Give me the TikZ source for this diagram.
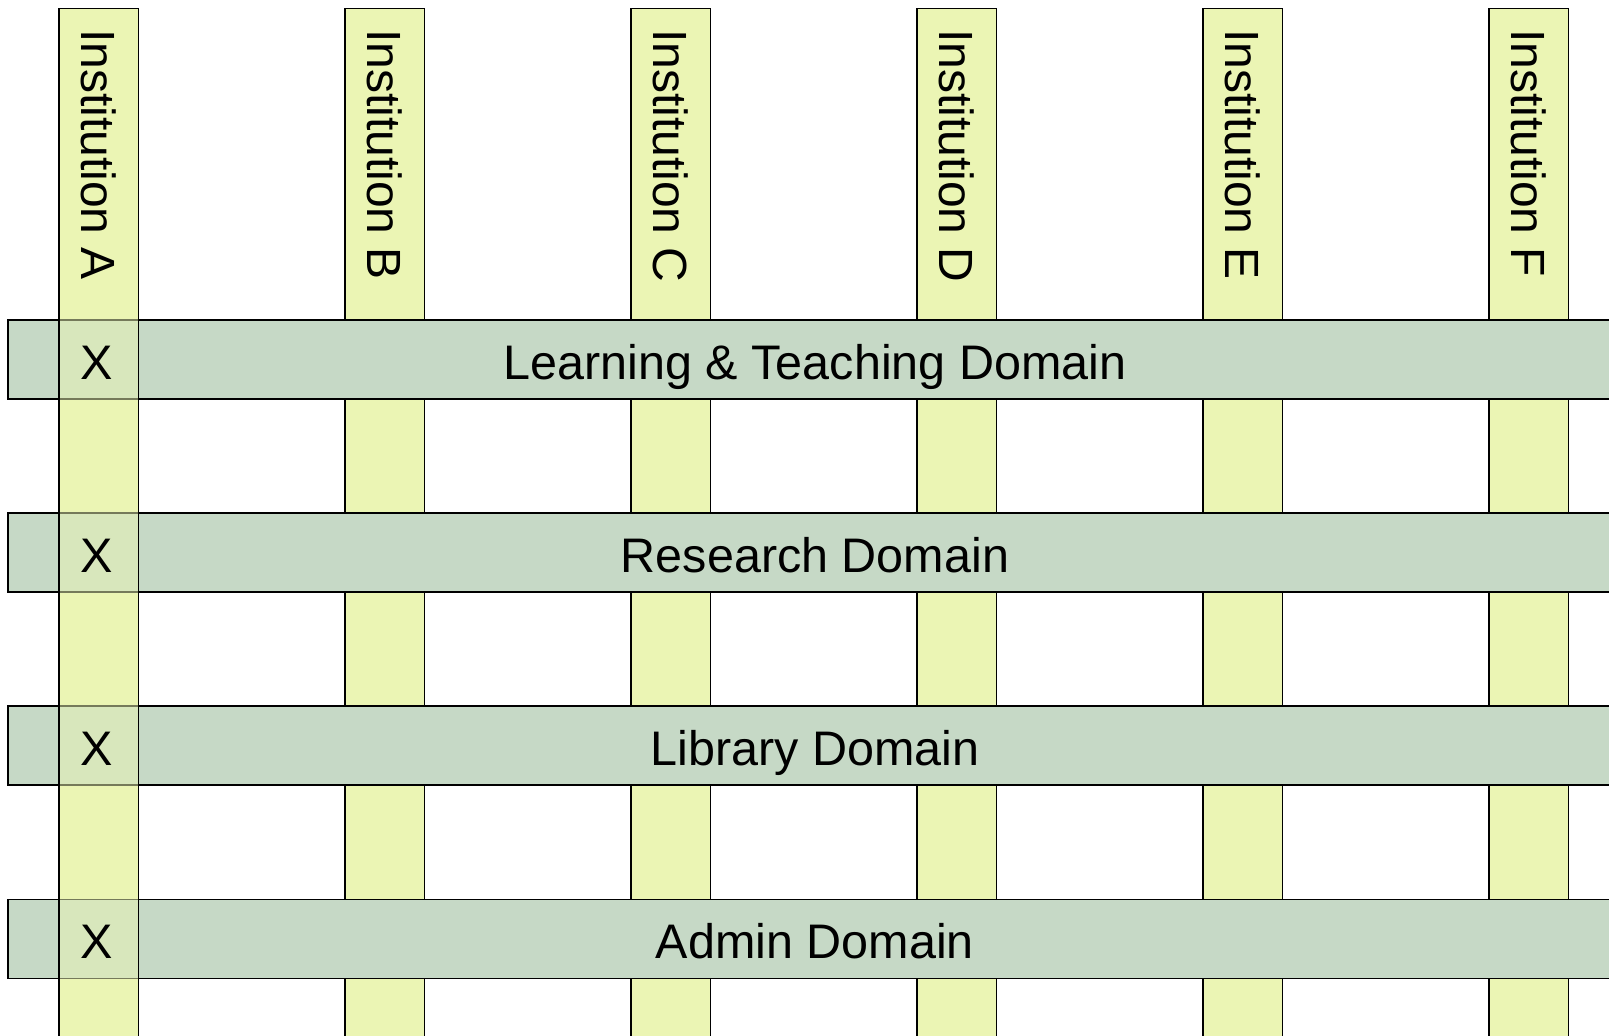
\documentclass[tikz,border=0pt]{standalone}
\usepackage{fontspec}
\setmainfont{Liberation Sans}
\definecolor{colfill}{RGB}{235,245,180}
\definecolor{barfill}{RGB}{198,217,198}
\tikzset{
  colbox/.style={draw=black, line width=1.6pt, fill=colfill},
  barbox/.style={draw=black, line width=1.6pt, fill=barfill},
  coltext/.style={rotate=-90, anchor=west, inner sep=0pt, font=\fontsize{48}{56}\selectfont},
  bartext/.style={inner sep=0pt, anchor=base, font=\fontsize{48.5}{56}\selectfont},
}
\begin{document}
\begin{tikzpicture}[x=1pt,y=-1pt]
\useasboundingbox (0,0) rectangle (1609,1036);
% columns A..F (opaque base)
\foreach \xl/\nm in {59/A,345/B,631/C,917/D,1203/E,1489/F}{
  \path[colbox] (\xl,8.5) rectangle ++(79.5,1040);
}
% domain bars
\foreach \yt/\nm/\lab in {320/lt/Learning \& Teaching Domain,513/res/Research Domain,706/lib/Library Domain,899.5/adm/Admin Domain}{
  \path[barbox] (8,\yt) rectangle ++(1630,79);
  \node[bartext] (bar\nm) at (815,\yt+59) {\lab};
}
% column A on top, translucent
\path[colbox, fill opacity=0.5] (59,8.5) rectangle ++(79.5,1040);
% column labels
\foreach \xl/\nm in {59/A,345/B,631/C,917/D,1203/E,1489/F}{
  \node[coltext] (col\nm) at (\xl+39.75,29) {Institution \nm};
}
\foreach \yt/\nm in {320/lt,513/res,706/lib,899.5/adm}{
  \node[bartext] (x\nm) at (96.5,\yt+59) {X};
}
\end{tikzpicture}
\end{document}
